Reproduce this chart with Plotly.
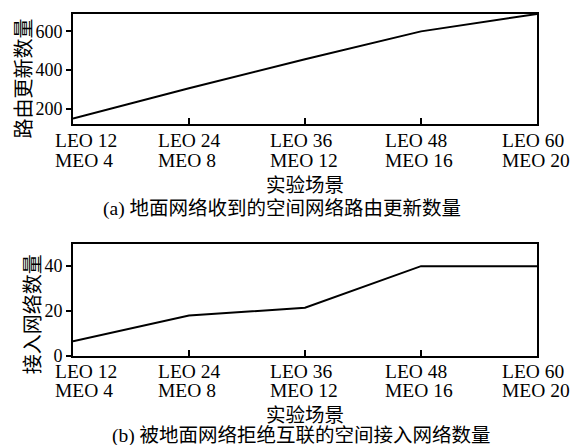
import plotly.graph_objects as go

categories = ["LEO 12", "LEO 24", "LEO 36", "LEO 48", "LEO 60"]
meo_labels = ["MEO 4", "MEO 8", "MEO 12", "MEO 16", "MEO 20"]
route_updates = [148, 305, 455, 600, 690]
rejected_networks = [6.5, 18, 21.5, 40, 40]
top_yticks = [200, 400, 600]
bottom_yticks = [0, 20, 40]
x_title = "实验场景"
top_ytitle = "路由更新数量"
bottom_ytitle = "接入网络数量"
caption_a = "(a) 地面网络收到的空间网络路由更新数量"
caption_b = "(b) 被地面网络拒绝互联的空间接入网络数量"

FONT = "Liberation Serif, Noto Sans CJK SC, serif"
CJK_FONT = "Noto Sans CJK SC"
OFF = 8  # page body margin
W, H = 578 - OFF, 445 - OFF
PL, PR, PT, PB = 73, 537, 12, 356  # plot region in window pixels
L, T = PL - OFF, PT - OFF
R = W - (PR - OFF)
B = H - (PB - OFF)


def py(pix):
    return (PB - pix) / (PB - PT)


def px(pix):
    return (pix - PL) / (PR - PL)


fig = go.Figure()
fig.add_trace(go.Scatter(x=categories, y=route_updates, mode="lines",
                         line=dict(color="black", width=2), xaxis="x", yaxis="y",
                         showlegend=False, cliponaxis=False))
fig.add_trace(go.Scatter(x=categories, y=rejected_networks, mode="lines",
                         line=dict(color="black", width=2), xaxis="x2", yaxis="y2",
                         showlegend=False, cliponaxis=False))

axis_common = dict(showline=True, mirror=True, linecolor="black", linewidth=2,
                   showgrid=False, zeroline=False)
xcommon = dict(axis_common, type="category", range=[0, 4], ticks="inside",
               ticklen=6, tickwidth=1.5, tickcolor="black", showticklabels=False)
ycommon = dict(axis_common, ticks="outside", ticklen=5, tickwidth=1.5,
               tickcolor="black", tickfont=dict(family=FONT, size=18, color="black"))

fig.update_layout(
    width=W, height=H,
    margin=dict(l=L, r=R, t=T, b=B),
    paper_bgcolor="white", plot_bgcolor="white",
    xaxis=dict(xcommon, domain=[0, 1], anchor="y"),
    yaxis=dict(ycommon, domain=[py(123), 1], range=[118, 690], tickvals=top_yticks, anchor="x"),
    xaxis2=dict(xcommon, domain=[0, 1], anchor="y2"),
    yaxis2=dict(ycommon, domain=[0, py(243)], range=[0, 50], tickvals=bottom_yticks, anchor="x2"),
)

label_left = [-20, -33, -37, -38, -37]
anns = []
for xref, y1, y2 in [("x", 139.5, 159), ("x2", 372, 391)]:
    for i, (c, m) in enumerate(zip(categories, meo_labels)):
        for txt, yy in [(c, y1), (m, y2)]:
            anns.append(dict(x=c, xref=xref, y=py(yy), yref="paper", text=txt,
                             showarrow=False, xanchor="left", yanchor="middle",
                             xshift=label_left[i],
                             font=dict(family=FONT, size=19.5, color="black")))

cjk = dict(family=FONT, size=19.5, color="black")
centered = dict(xref="paper", yref="paper", showarrow=False, font=cjk,
                xanchor="center", yanchor="middle")
ytitle_font = dict(family=CJK_FONT, size=20, color="black")
anns += [
    dict(centered, x=px(305), y=py(185), text=x_title),
    dict(centered, x=px(282), y=py(208), text=caption_a),
    dict(centered, x=px(305), y=py(416), text=x_title),
    dict(centered, x=px(301), y=py(436), text=caption_b),
    dict(centered, x=px(23), y=py(77), text=top_ytitle, textangle=-90, font=ytitle_font),
    dict(centered, x=px(31), y=py(314), text=bottom_ytitle, textangle=-90, font=ytitle_font),
]
fig.update_layout(annotations=anns)

fig.write_html("out.html")
